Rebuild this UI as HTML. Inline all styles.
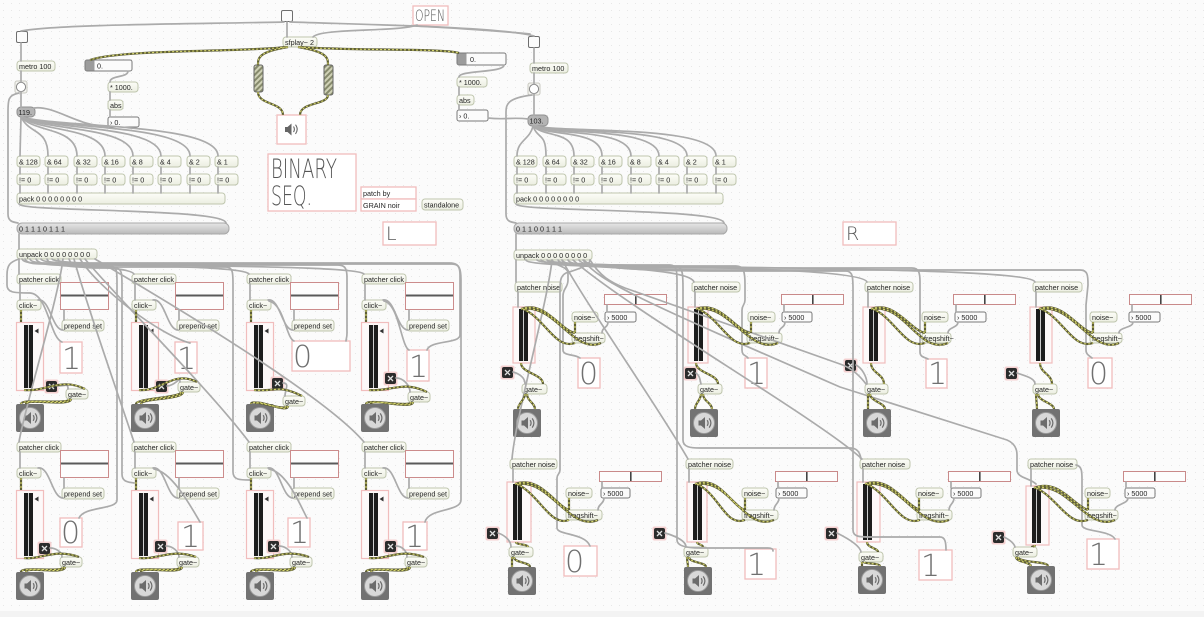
<!DOCTYPE html>
<html><head><meta charset="utf-8"><style>
html,body{margin:0;padding:0;background:#fbfbfb;}
svg{display:block;}
svg text{font-family:"Liberation Sans",sans-serif;}
.o{fill:url(#og);stroke:#bfc6ae;stroke-width:1;}
.t{font-size:7.2px;fill:#262626;}
.c{fill:none;stroke:#ababab;stroke-width:1.7;stroke-linecap:round;stroke-linejoin:round;}
.s1{fill:none;stroke:#5e5e36;stroke-width:2.2;}
.s2{fill:none;stroke:#d6d66c;stroke-width:1.1;stroke-dasharray:2 2;}
.p{fill:#fff;stroke:#f1bdbd;stroke-width:1.3;}
.pm{fill:#fdf9f9;stroke:#f1bdbd;stroke-width:1.2;}
.dg{font-family:"DejaVu Sans","Liberation Sans",sans-serif;font-weight:200;font-size:30px;fill:#707070;}
.th{font-family:"DejaVu Sans","Liberation Sans",sans-serif;font-weight:200;fill:#555;}
.nb{fill:#fbfbfb;stroke:#7a7a7a;stroke-width:1;}
</style></head><body>
<svg width="1204" height="617" viewBox="0 0 1204 617" xmlns="http://www.w3.org/2000/svg">
<defs>
<pattern id="dots" width="8" height="7" patternUnits="userSpaceOnUse"><rect x="3" y="3" width="1" height="1" fill="#e7e7e7"/></pattern>
<linearGradient id="og" x1="0" y1="0" x2="0" y2="1"><stop offset="0" stop-color="#fdfdf8"/><stop offset="1" stop-color="#ebeee1"/></linearGradient>
<linearGradient id="mg" x1="0" y1="0" x2="0" y2="1"><stop offset="0" stop-color="#e6e6e6"/><stop offset=".5" stop-color="#d0d0d0"/><stop offset="1" stop-color="#b9b9b9"/></linearGradient>
<pattern id="hatch" width="4" height="4" patternUnits="userSpaceOnUse" patternTransform="rotate(45)"><rect width="4" height="4" fill="#cfd1b6"/><rect width="2" height="4" fill="#868a6c"/></pattern>
<g id="spk"><rect x="0" y="0" width="28" height="28" rx="2" fill="#727272"/><circle cx="14" cy="14" r="10.5" fill="#d8d8d8" stroke="#9a9a9a"/><path d="M8.5,11.5h2.5l4-3.5v12l-4-3.5h-2.5z" fill="#6c6c6c"/><path d="M17.2,11.2q1.8,2.8 0,5.6M19.2,9.4q3.4,4.6 0,9.2" fill="none" stroke="#6c6c6c" stroke-width="1.2"/></g>
<g id="mtrC"><rect x=".5" y=".5" width="27" height="68" fill="#fdf9f9" stroke="#f1bdbd" stroke-width="1.2"/><rect x="8" y="3" width="9" height="63" fill="#1d1d1d"/><rect x="12" y="3" width="1" height="63" fill="#d0d0d0"/><path d="M18.5,9l4-2.5v5z" fill="#333"/></g>
<g id="xb"><rect x="-1.5" y="-1.5" width="14" height="14" rx="2" fill="#f4d0d0"/><rect x="0" y="0" width="11" height="11" rx="2" fill="#2b2b2b"/><path d="M3,3l5,5M8,3l-5,5" stroke="#e0e0e0" stroke-width="1.3"/></g>
<g id="msC"><rect x=".5" y=".5" width="48" height="27" fill="#fdfdfd" stroke="#cc8c8c"/><rect x="1" y="12.5" width="47" height="2" fill="#5a5a5a"/></g>
<g id="msN"><rect x=".5" y=".5" width="62" height="10" fill="#fdfdfd" stroke="#c98a8a"/><rect x="31" y="1" width="1.6" height="9" fill="#444"/></g>
<g id="tog"><rect x=".5" y=".5" width="11" height="11" rx="1.5" fill="#fbfbfb" stroke="#6e6e6e"/></g>

<g id="sig">
<path d="M286,47 C250,52 120,49 90,60"/>
<path d="M300,47 C350,51 440,48 459,53"/>
<path d="M288,47 C258,52 258,58 258,65"/>
<path d="M298,47 C328,52 328,58 328,65"/>
<path d="M258,92 C258,105 283,102 283,115"/>
<path d="M328,95 C328,105 300,102 300,115"/>
<path d="M21,310 L21,322"/><path d="M24,390 C46,392 61,377 85,389"/><path d="M69,399 C69,405 21,398 21,404"/><path d="M71,399 C71,407 26,398 26,404"/>
<path d="M136,310 L136,322"/><path d="M139,390 C161,392 173,370 197,382"/><path d="M181,392 C181,398 136,398 136,404"/><path d="M183,392 C183,400 141,398 141,404"/>
<path d="M251,310 L251,322"/><path d="M254,390 C276,392 278,384 302,396"/><path d="M286,406 C286,412 251,398 251,404"/><path d="M288,406 C288,414 256,398 256,404"/>
<path d="M366,310 L366,322"/><path d="M369,390 C391,392 403,380 427,392"/><path d="M411,402 C411,408 366,398 366,404"/><path d="M413,402 C413,410 371,398 371,404"/>
<path d="M21,478 L21,490"/><path d="M24,558 C40,560 55,548 79,557"/><path d="M63,567 C63,573 21,566 21,572"/><path d="M65,567 C65,575 26,566 26,572"/>
<path d="M136,478 L136,490"/><path d="M139,558 C158,560 172,548 196,557"/><path d="M180,567 C180,573 136,566 136,572"/><path d="M182,567 C182,575 141,566 141,572"/>
<path d="M251,478 L251,490"/><path d="M254,558 C272,560 285,548 309,557"/><path d="M293,567 C293,573 251,566 251,572"/><path d="M295,567 C295,575 256,566 256,572"/>
<path d="M366,478 L366,490"/><path d="M369,558 C387,560 400,548 424,557"/><path d="M408,567 C408,573 366,566 366,572"/><path d="M410,567 C410,575 371,566 371,572"/>
<path d="M521,309 C545,300 560,330 575,333"/><path d="M523,309 C545,318 555,350 575,343"/><path d="M525,309 C555,305 575,355 601,343"/><path d="M575,322 L575,333"/><path d="M521,363 C521,373 543,374 543,384"/><path d="M525,394 C525,400 518,403 518,409"/><path d="M527,394 C527,401 535,403 535,409"/>
<path d="M696,309 C720,300 735,330 750,333"/><path d="M698,309 C720,318 730,350 750,343"/><path d="M700,309 C730,305 750,355 778,343"/><path d="M751,322 L751,333"/><path d="M696,363 C696,373 718,374 718,384"/><path d="M701,394 C701,400 695,403 695,409"/><path d="M703,394 C703,401 712,403 712,409"/>
<path d="M871,309 C895,300 910,330 925,333"/><path d="M873,309 C895,318 905,350 925,343"/><path d="M875,309 C905,305 920,355 948,343"/><path d="M925,322 L925,333"/><path d="M871,363 C871,373 884,374 884,384"/><path d="M868,394 C868,400 868,403 868,409"/><path d="M870,394 C870,401 885,403 885,409"/>
<path d="M1039,309 C1063,300 1078,330 1093,333"/><path d="M1041,309 C1063,318 1073,350 1093,343"/><path d="M1043,309 C1073,305 1093,355 1119,343"/><path d="M1093,322 L1093,333"/><path d="M1040,363 C1040,373 1052,374 1052,384"/><path d="M1036,394 C1036,400 1037,403 1037,409"/><path d="M1038,394 C1038,401 1054,403 1054,409"/>
<path d="M515,484 C540,475 555,505 569,510"/><path d="M517,484 C540,495 550,527 569,520"/><path d="M519,484 C550,480 570,532 598,520"/><path d="M569,498 L569,510"/><path d="M516,542 C516,545 528,544 528,547"/><path d="M512,557 C512,562 512,563 512,567"/><path d="M514,557 C514,563 530,562 530,567"/>
<path d="M695,484 C720,475 730,505 745,510"/><path d="M697,484 C720,495 725,527 745,520"/><path d="M699,484 C730,480 745,532 774,520"/><path d="M745,498 L745,510"/><path d="M697,542 C697,545 703,544 703,547"/><path d="M687,557 C687,562 688,563 688,567"/><path d="M689,557 C689,563 706,562 706,567"/>
<path d="M865,484 C890,475 905,505 920,510"/><path d="M867,484 C890,495 900,527 920,520"/><path d="M869,484 C900,480 920,532 949,520"/><path d="M919,498 L919,510"/><path d="M867,542 C867,548 878,548 878,552"/><path d="M862,562 L862,566"/><path d="M864,562 C864,564 880,563 880,566"/>
<path d="M1034,488 C1058,478 1073,505 1088,510"/><path d="M1036,488 C1058,498 1068,527 1088,520"/><path d="M1038,488 C1068,483 1088,532 1115,520"/><path d="M1088,498 L1088,510"/><path d="M1035,545 C1035,547 1032,546 1032,547"/><path d="M1016,557 C1016,562 1030,562 1031,566"/><path d="M1018,557 C1018,563 1048,561 1048,566"/>
</g>
</defs>

<rect width="1204" height="617" fill="#fbfbfb"/>
<rect width="1204" height="617" fill="url(#dots)"/>
<rect x="0" y="611" width="1204" height="6" fill="#f3f3f3"/>

<use href="#tog" x="281" y="10"/>
<rect class="p" x="413" y="6" width="35" height="19"/>
<text class="th" x="415" y="21" font-size="16" textLength="30" lengthAdjust="spacingAndGlyphs">OPEN</text>
<rect class="o" x="283" y="37" width="34" height="10" rx="3"/><text class="t" x="285" y="44.8">sfplay~ 2</text>

<rect x="254" y="65" width="9" height="27" rx="2" fill="url(#hatch)" stroke="#666"/>
<rect x="324" y="65" width="9" height="30" rx="2" fill="url(#hatch)" stroke="#666"/>
<rect class="p" x="277" y="115" width="29" height="29"/>
<path d="M285,127h2.5l4-3.5v12l-4-3.5h-2.5z" fill="#666"/>
<path d="M293.5,126.5q1.8,2.8 0,5.6M295.5,124.7q3.4,4.6 0,9.2" fill="none" stroke="#666" stroke-width="1.1"/>

<rect class="p" x="268" y="154" width="88" height="57"/>
<text class="th" x="271" y="178" font-size="27" textLength="66" lengthAdjust="spacingAndGlyphs">BINARY</text>
<text class="th" x="271" y="205" font-size="27" textLength="41" lengthAdjust="spacingAndGlyphs">SEQ.</text>
<rect class="p" x="361" y="187" width="55" height="12"/><text class="t" x="363" y="196">patch by</text>
<rect class="p" x="361" y="199" width="55" height="12"/><text class="t" x="363" y="208">GRAIN noir</text>
<rect class="o" x="422" y="199" width="41" height="11" rx="3"/><text class="t" x="424" y="207.5">standalone</text>
<rect class="p" x="383" y="222" width="53" height="23"/>
<text class="th" x="386" y="240" font-size="19">L</text>
<rect class="p" x="843" y="222" width="53" height="23"/>
<text class="th" x="846" y="240" font-size="19">R</text>

<use href="#tog" x="16" y="31"/>
<rect class="o" x="17" y="61" width="38" height="10" rx="3"/><text class="t" x="19" y="68.8">metro 100</text>
<rect x="15" y="81" width="12" height="12" rx="2" fill="#f4f4f0" stroke="#c8c8c0"/><circle cx="21" cy="87" r="4.6" fill="#fff" stroke="#888"/>
<rect x="17" y="107" width="18" height="10" rx="4" fill="#b4b4b4" stroke="#8f8f8f"/><text class="t" x="18.5" y="114.8">119.</text>

<rect class="nb" x="85" y="60" width="47" height="11" rx="2"/><rect x="85.5" y="60.5" width="9" height="10" fill="#9c9c9c"/><text class="t" x="97" y="68.5">0.</text>
<rect class="o" x="108" y="82" width="30" height="10" rx="3"/><text class="t" x="110" y="89.8">* 1000.</text>
<rect class="o" x="108" y="100" width="15" height="10" rx="3"/><text class="t" x="110" y="107.8">abs</text>
<rect class="nb" x="108" y="117" width="31" height="10" rx="2"/><text class="t" x="110" y="124.8">› 0.</text>

<rect class="o" x="17" y="156" width="23" height="11" rx="3"/><text class="t" x="19" y="164.3">&amp; 128</text>
<rect class="o" x="45" y="156" width="23" height="11" rx="3"/><text class="t" x="47" y="164.3">&amp; 64</text>
<rect class="o" x="74" y="156" width="23" height="11" rx="3"/><text class="t" x="76" y="164.3">&amp; 32</text>
<rect class="o" x="102" y="156" width="23" height="11" rx="3"/><text class="t" x="104" y="164.3">&amp; 16</text>
<rect class="o" x="130" y="156" width="23" height="11" rx="3"/><text class="t" x="132" y="164.3">&amp; 8</text>
<rect class="o" x="158" y="156" width="23" height="11" rx="3"/><text class="t" x="160" y="164.3">&amp; 4</text>
<rect class="o" x="187" y="156" width="23" height="11" rx="3"/><text class="t" x="189" y="164.3">&amp; 2</text>
<rect class="o" x="215" y="156" width="23" height="11" rx="3"/><text class="t" x="217" y="164.3">&amp; 1</text>
<rect class="o" x="17" y="174" width="23" height="11" rx="3"/><text class="t" x="19" y="182.3">!= 0</text>
<rect class="o" x="45" y="174" width="23" height="11" rx="3"/><text class="t" x="47" y="182.3">!= 0</text>
<rect class="o" x="74" y="174" width="23" height="11" rx="3"/><text class="t" x="76" y="182.3">!= 0</text>
<rect class="o" x="102" y="174" width="23" height="11" rx="3"/><text class="t" x="104" y="182.3">!= 0</text>
<rect class="o" x="130" y="174" width="23" height="11" rx="3"/><text class="t" x="132" y="182.3">!= 0</text>
<rect class="o" x="158" y="174" width="23" height="11" rx="3"/><text class="t" x="160" y="182.3">!= 0</text>
<rect class="o" x="187" y="174" width="23" height="11" rx="3"/><text class="t" x="189" y="182.3">!= 0</text>
<rect class="o" x="215" y="174" width="23" height="11" rx="3"/><text class="t" x="217" y="182.3">!= 0</text>
<rect class="o" x="17" y="193" width="208" height="11" rx="3"/><text class="t" x="19" y="201.3">pack 0 0 0 0 0 0 0 0</text>
<rect x="17" y="223" width="212" height="11" rx="5" fill="url(#mg)" stroke="#a8a8a8"/><text class="t" x="19" y="231.5" font-size="8">0 1 1 1 0 1 1 1</text>
<rect class="o" x="17" y="249" width="80" height="10" rx="3"/><text class="t" x="19" y="256.8">unpack 0 0 0 0 0 0 0 0</text>

<use href="#tog" x="528" y="36"/>
<rect class="o" x="530" y="63" width="38" height="10" rx="3"/><text class="t" x="532" y="70.8">metro 100</text>
<rect x="528" y="83" width="12" height="12" rx="2" fill="#f4f4f0" stroke="#c8c8c0"/><circle cx="534" cy="89" r="4.6" fill="#fff" stroke="#888"/>
<rect x="528" y="115" width="20" height="11" rx="4" fill="#b4b4b4" stroke="#8f8f8f"/><text class="t" x="529.5" y="123.3">103.</text>

<rect class="nb" x="457" y="53" width="49" height="12" rx="2"/><rect x="457.5" y="53.5" width="9" height="11" fill="#9c9c9c"/><text class="t" x="470" y="62">0.</text>
<rect class="o" x="457" y="77" width="30" height="10" rx="3"/><text class="t" x="459" y="84.8">* 1000.</text>
<rect class="o" x="457" y="95" width="17" height="10" rx="3"/><text class="t" x="459" y="102.8">abs</text>
<rect class="nb" x="457" y="110" width="31" height="11" rx="2"/><text class="t" x="459" y="118.3">› 0.</text>

<rect class="o" x="514" y="156" width="23" height="11" rx="3"/><text class="t" x="516" y="164.3">&amp; 128</text>
<rect class="o" x="543" y="156" width="23" height="11" rx="3"/><text class="t" x="545" y="164.3">&amp; 64</text>
<rect class="o" x="571" y="156" width="23" height="11" rx="3"/><text class="t" x="573" y="164.3">&amp; 32</text>
<rect class="o" x="599" y="156" width="23" height="11" rx="3"/><text class="t" x="601" y="164.3">&amp; 16</text>
<rect class="o" x="628" y="156" width="23" height="11" rx="3"/><text class="t" x="630" y="164.3">&amp; 8</text>
<rect class="o" x="656" y="156" width="23" height="11" rx="3"/><text class="t" x="658" y="164.3">&amp; 4</text>
<rect class="o" x="684" y="156" width="23" height="11" rx="3"/><text class="t" x="686" y="164.3">&amp; 2</text>
<rect class="o" x="713" y="156" width="23" height="11" rx="3"/><text class="t" x="715" y="164.3">&amp; 1</text>
<rect class="o" x="514" y="174" width="23" height="11" rx="3"/><text class="t" x="516" y="182.3">!= 0</text>
<rect class="o" x="543" y="174" width="23" height="11" rx="3"/><text class="t" x="545" y="182.3">!= 0</text>
<rect class="o" x="571" y="174" width="23" height="11" rx="3"/><text class="t" x="573" y="182.3">!= 0</text>
<rect class="o" x="599" y="174" width="23" height="11" rx="3"/><text class="t" x="601" y="182.3">!= 0</text>
<rect class="o" x="628" y="174" width="23" height="11" rx="3"/><text class="t" x="630" y="182.3">!= 0</text>
<rect class="o" x="656" y="174" width="23" height="11" rx="3"/><text class="t" x="658" y="182.3">!= 0</text>
<rect class="o" x="684" y="174" width="23" height="11" rx="3"/><text class="t" x="686" y="182.3">!= 0</text>
<rect class="o" x="713" y="174" width="23" height="11" rx="3"/><text class="t" x="715" y="182.3">!= 0</text>
<rect class="o" x="514" y="193" width="209" height="11" rx="3"/><text class="t" x="516" y="201.3">pack 0 0 0 0 0 0 0 0</text>
<rect x="514" y="223" width="213" height="11" rx="5" fill="url(#mg)" stroke="#a8a8a8"/><text class="t" x="516" y="231.5" font-size="8">0 1 1 0 0 1 1 1</text>
<rect class="o" x="514" y="250" width="78" height="10" rx="3"/><text class="t" x="516" y="257.8">unpack 0 0 0 0 0 0 0 0</text>

<!-- click modules -->
<rect class="o" x="17" y="274" width="44" height="10" rx="3"/><text class="t" x="19" y="281.8">patcher click</text>
<use href="#msC" x="60" y="282"/>
<rect class="o" x="17" y="300" width="24" height="10" rx="3"/><text class="t" x="19" y="307.8">click~</text>
<rect class="o" x="62" y="320" width="42" height="11" rx="3"/><text class="t" x="64" y="328.3">prepend set</text>
<use href="#mtrC" x="16" y="322"/>
<use href="#xb" x="46" y="381"/>
<rect class="o" x="66" y="389" width="22" height="10" rx="3"/><text class="t" x="68" y="396.8">gate~</text>
<rect class="p" x="60" y="342" width="22" height="31"/><text class="dg" x="62" y="369">1</text>
<use href="#spk" x="16" y="404"/>

<rect class="o" x="132" y="274" width="44" height="10" rx="3"/><text class="t" x="134" y="281.8">patcher click</text>
<use href="#msC" x="175" y="282"/>
<rect class="o" x="132" y="300" width="24" height="10" rx="3"/><text class="t" x="134" y="307.8">click~</text>
<rect class="o" x="177" y="320" width="42" height="11" rx="3"/><text class="t" x="179" y="328.3">prepend set</text>
<use href="#mtrC" x="131" y="322"/>
<use href="#xb" x="156" y="381"/>
<rect class="o" x="178" y="382" width="22" height="10" rx="3"/><text class="t" x="180" y="389.8">gate~</text>
<rect class="p" x="175" y="342" width="22" height="31"/><text class="dg" x="177" y="369">1</text>
<use href="#spk" x="131" y="404"/>

<rect class="o" x="247" y="274" width="44" height="10" rx="3"/><text class="t" x="249" y="281.8">patcher click</text>
<use href="#msC" x="290" y="282"/>
<rect class="o" x="247" y="300" width="24" height="10" rx="3"/><text class="t" x="249" y="307.8">click~</text>
<rect class="o" x="292" y="320" width="42" height="11" rx="3"/><text class="t" x="294" y="328.3">prepend set</text>
<use href="#mtrC" x="246" y="322"/>
<use href="#xb" x="272" y="378"/>
<rect class="o" x="283" y="396" width="22" height="10" rx="3"/><text class="t" x="285" y="403.8">gate~</text>
<rect class="p" x="292" y="341" width="58" height="30"/><text class="dg" x="293" y="367">0</text>
<use href="#spk" x="246" y="404"/>

<rect class="o" x="362" y="274" width="44" height="10" rx="3"/><text class="t" x="364" y="281.8">patcher click</text>
<use href="#msC" x="405" y="282"/>
<rect class="o" x="362" y="300" width="24" height="10" rx="3"/><text class="t" x="364" y="307.8">click~</text>
<rect class="o" x="407" y="320" width="42" height="11" rx="3"/><text class="t" x="409" y="328.3">prepend set</text>
<use href="#mtrC" x="361" y="322"/>
<use href="#xb" x="385" y="373"/>
<rect class="o" x="408" y="392" width="22" height="10" rx="3"/><text class="t" x="410" y="399.8">gate~</text>
<rect class="p" x="407" y="350" width="22" height="31"/><text class="dg" x="409" y="377">1</text>
<use href="#spk" x="361" y="404"/>

<rect class="o" x="17" y="442" width="44" height="10" rx="3"/><text class="t" x="19" y="449.8">patcher click</text>
<use href="#msC" x="60" y="450"/>
<rect class="o" x="17" y="468" width="24" height="10" rx="3"/><text class="t" x="19" y="475.8">click~</text>
<rect class="o" x="62" y="488" width="42" height="11" rx="3"/><text class="t" x="64" y="496.3">prepend set</text>
<use href="#mtrC" x="16" y="490"/>
<use href="#xb" x="39" y="543"/>
<rect class="o" x="60" y="557" width="22" height="10" rx="3"/><text class="t" x="62" y="564.8">gate~</text>
<rect class="p" x="60" y="518" width="22" height="29"/><text class="dg" x="61" y="543">0</text>
<use href="#spk" x="16" y="572"/>

<rect class="o" x="132" y="442" width="44" height="10" rx="3"/><text class="t" x="134" y="449.8">patcher click</text>
<use href="#msC" x="175" y="450"/>
<rect class="o" x="132" y="468" width="24" height="10" rx="3"/><text class="t" x="134" y="475.8">click~</text>
<rect class="o" x="177" y="488" width="42" height="11" rx="3"/><text class="t" x="179" y="496.3">prepend set</text>
<use href="#mtrC" x="131" y="490"/>
<use href="#xb" x="155" y="541"/>
<rect class="o" x="177" y="557" width="22" height="10" rx="3"/><text class="t" x="179" y="564.8">gate~</text>
<rect class="p" x="178" y="522" width="25" height="28"/><text class="dg" x="181" y="547">1</text>
<use href="#spk" x="131" y="572"/>

<rect class="o" x="247" y="442" width="44" height="10" rx="3"/><text class="t" x="249" y="449.8">patcher click</text>
<use href="#msC" x="290" y="450"/>
<rect class="o" x="247" y="468" width="24" height="10" rx="3"/><text class="t" x="249" y="475.8">click~</text>
<rect class="o" x="292" y="488" width="42" height="11" rx="3"/><text class="t" x="294" y="496.3">prepend set</text>
<use href="#mtrC" x="246" y="490"/>
<use href="#xb" x="268" y="541"/>
<rect class="o" x="290" y="557" width="22" height="10" rx="3"/><text class="t" x="292" y="564.8">gate~</text>
<rect class="p" x="288" y="518" width="22" height="29"/><text class="dg" x="290" y="543">1</text>
<use href="#spk" x="246" y="572"/>

<rect class="o" x="362" y="442" width="44" height="10" rx="3"/><text class="t" x="364" y="449.8">patcher click</text>
<use href="#msC" x="405" y="450"/>
<rect class="o" x="362" y="468" width="24" height="10" rx="3"/><text class="t" x="364" y="475.8">click~</text>
<rect class="o" x="407" y="488" width="42" height="11" rx="3"/><text class="t" x="409" y="496.3">prepend set</text>
<use href="#mtrC" x="361" y="490"/>
<use href="#xb" x="385" y="541"/>
<rect class="o" x="405" y="557" width="22" height="10" rx="3"/><text class="t" x="407" y="564.8">gate~</text>
<rect class="p" x="403" y="522" width="24" height="28"/><text class="dg" x="405" y="547">1</text>
<use href="#spk" x="361" y="572"/>

<!-- noise modules -->
<rect class="o" x="515" y="282" width="47" height="10" rx="3"/><text class="t" x="517" y="289.8">patcher noise</text>
<use href="#msN" x="604" y="294"/>
<rect class="o" x="572" y="312" width="26" height="10" rx="3"/><text class="t" x="574" y="319.8">noise~</text>
<rect class="nb" x="605" y="312" width="31" height="10" rx="2"/><text class="t" x="607" y="319.8">› 5000</text>
<rect class="o" x="572" y="333" width="33" height="10" rx="3"/><text class="t" x="574" y="340.8">freqshift~</text>
<rect class="pm" x="513" y="307" width="22" height="56"/><rect x="519" y="309" width="9" height="52" fill="#1d1d1d"/><rect x="523" y="309" width="1" height="52" fill="#ccc"/>
<use href="#xb" x="502" y="367"/>
<rect class="o" x="522" y="384" width="25" height="10" rx="3"/><text class="t" x="524" y="391.8">gate~</text>
<use href="#spk" x="513" y="409"/>
<rect class="p" x="578" y="358" width="22" height="30"/><text class="dg" x="579" y="384">0</text>

<rect class="o" x="692" y="282" width="48" height="10" rx="3"/><text class="t" x="694" y="289.8">patcher noise</text>
<use href="#msN" x="781" y="294"/>
<rect class="o" x="748" y="312" width="27" height="10" rx="3"/><text class="t" x="750" y="319.8">noise~</text>
<rect class="nb" x="782" y="312" width="30" height="10" rx="2"/><text class="t" x="784" y="319.8">› 5000</text>
<rect class="o" x="747" y="333" width="35" height="10" rx="3"/><text class="t" x="749" y="340.8">freqshift~</text>
<rect class="pm" x="688" y="307" width="20" height="56"/><rect x="694" y="309" width="9" height="52" fill="#1d1d1d"/><rect x="698" y="309" width="1" height="52" fill="#ccc"/>
<use href="#xb" x="685" y="368"/>
<rect class="o" x="698" y="384" width="24" height="10" rx="3"/><text class="t" x="700" y="391.8">gate~</text>
<use href="#spk" x="690" y="409"/>
<rect class="p" x="745" y="358" width="22" height="30"/><text class="dg" x="747" y="384">1</text>

<rect class="o" x="865" y="282" width="48" height="10" rx="3"/><text class="t" x="867" y="289.8">patcher noise</text>
<use href="#msN" x="953" y="294"/>
<rect class="o" x="922" y="312" width="26" height="10" rx="3"/><text class="t" x="924" y="319.8">noise~</text>
<rect class="nb" x="955" y="312" width="31" height="10" rx="2"/><text class="t" x="957" y="319.8">› 5000</text>
<rect class="o" x="922" y="333" width="29" height="10" rx="3"/><text class="t" x="924" y="340.8">freqshift~</text>
<rect class="pm" x="863" y="307" width="22" height="56"/><rect x="869" y="309" width="9" height="52" fill="#1d1d1d"/><rect x="873" y="309" width="1" height="52" fill="#ccc"/>
<use href="#xb" x="845" y="360"/>
<rect class="o" x="865" y="384" width="23" height="10" rx="3"/><text class="t" x="867" y="391.8">gate~</text>
<use href="#spk" x="863" y="409"/>
<rect class="p" x="926" y="359" width="21" height="29"/><text class="dg" x="928" y="384">1</text>

<rect class="o" x="1033" y="282" width="49" height="10" rx="3"/><text class="t" x="1035" y="289.8">patcher noise</text>
<use href="#msN" x="1129" y="294"/>
<rect class="o" x="1090" y="312" width="27" height="10" rx="3"/><text class="t" x="1092" y="319.8">noise~</text>
<rect class="nb" x="1129" y="312" width="31" height="10" rx="2"/><text class="t" x="1131" y="319.8">› 5000</text>
<rect class="o" x="1090" y="333" width="32" height="10" rx="3"/><text class="t" x="1092" y="340.8">freqshift~</text>
<rect class="pm" x="1030" y="307" width="22" height="56"/><rect x="1036" y="309" width="9" height="52" fill="#1d1d1d"/><rect x="1040" y="309" width="1" height="52" fill="#ccc"/>
<use href="#xb" x="1006" y="368"/>
<rect class="o" x="1033" y="384" width="24" height="10" rx="3"/><text class="t" x="1035" y="391.8">gate~</text>
<use href="#spk" x="1032" y="409"/>
<rect class="p" x="1088" y="358" width="24" height="30"/><text class="dg" x="1089" y="384">0</text>

<rect class="o" x="510" y="459" width="47" height="10" rx="3"/><text class="t" x="512" y="466.8">patcher noise</text>
<use href="#msN" x="599" y="471"/>
<rect class="o" x="566" y="488" width="26" height="10" rx="3"/><text class="t" x="568" y="495.8">noise~</text>
<rect class="nb" x="601" y="488" width="29" height="10" rx="2"/><text class="t" x="603" y="495.8">› 5000</text>
<rect class="o" x="566" y="510" width="36" height="10" rx="3"/><text class="t" x="568" y="517.8">freqshift~</text>
<rect class="pm" x="507" y="482" width="24" height="60"/><rect x="513" y="484" width="9" height="56" fill="#1d1d1d"/><rect x="517" y="484" width="1" height="56" fill="#ccc"/>
<use href="#xb" x="487" y="528"/>
<rect class="o" x="509" y="547" width="24" height="10" rx="3"/><text class="t" x="511" y="554.8">gate~</text>
<use href="#spk" x="508" y="567"/>
<rect class="p" x="564" y="546" width="33" height="30"/><text class="dg" x="565" y="572">0</text>

<rect class="o" x="686" y="459" width="47" height="10" rx="3"/><text class="t" x="688" y="466.8">patcher noise</text>
<use href="#msN" x="775" y="471"/>
<rect class="o" x="742" y="488" width="26" height="10" rx="3"/><text class="t" x="744" y="495.8">noise~</text>
<rect class="nb" x="776" y="488" width="31" height="10" rx="2"/><text class="t" x="778" y="495.8">› 5000</text>
<rect class="o" x="742" y="510" width="36" height="10" rx="3"/><text class="t" x="744" y="517.8">freqshift~</text>
<rect class="pm" x="687" y="482" width="20" height="60"/><rect x="693" y="484" width="9" height="56" fill="#1d1d1d"/><rect x="697" y="484" width="1" height="56" fill="#ccc"/>
<use href="#xb" x="654" y="528"/>
<rect class="o" x="684" y="547" width="24" height="10" rx="3"/><text class="t" x="686" y="554.8">gate~</text>
<use href="#spk" x="684" y="567"/>
<rect class="p" x="745" y="549" width="31" height="30"/><text class="dg" x="747" y="575">1</text>

<rect class="o" x="860" y="459" width="50" height="10" rx="3"/><text class="t" x="862" y="466.8">patcher noise</text>
<use href="#msN" x="948" y="471"/>
<rect class="o" x="916" y="488" width="27" height="10" rx="3"/><text class="t" x="918" y="495.8">noise~</text>
<rect class="nb" x="951" y="488" width="30" height="10" rx="2"/><text class="t" x="953" y="495.8">› 5000</text>
<rect class="o" x="917" y="510" width="35" height="10" rx="3"/><text class="t" x="919" y="517.8">freqshift~</text>
<rect class="pm" x="857" y="482" width="23" height="60"/><rect x="863" y="484" width="9" height="56" fill="#1d1d1d"/><rect x="867" y="484" width="1" height="56" fill="#ccc"/>
<use href="#xb" x="826" y="528"/>
<rect class="o" x="859" y="552" width="24" height="10" rx="3"/><text class="t" x="861" y="559.8">gate~</text>
<use href="#spk" x="858" y="566"/>
<rect class="p" x="919" y="550" width="33" height="30"/><text class="dg" x="921" y="576">1</text>

<rect class="o" x="1028" y="459" width="49" height="10" rx="3"/><text class="t" x="1030" y="466.8">patcher noise</text>
<use href="#msN" x="1123" y="471"/>
<rect class="o" x="1085" y="488" width="25" height="10" rx="3"/><text class="t" x="1087" y="495.8">noise~</text>
<rect class="nb" x="1125" y="488" width="30" height="10" rx="2"/><text class="t" x="1127" y="495.8">› 5000</text>
<rect class="o" x="1085" y="510" width="33" height="10" rx="3"/><text class="t" x="1087" y="517.8">freqshift~</text>
<rect class="pm" x="1026" y="486" width="23" height="59"/><rect x="1032" y="488" width="9" height="55" fill="#1d1d1d"/><rect x="1036" y="488" width="1" height="55" fill="#ccc"/>
<use href="#xb" x="993" y="532"/>
<rect class="o" x="1013" y="547" width="24" height="10" rx="3"/><text class="t" x="1015" y="554.8">gate~</text>
<use href="#spk" x="1027" y="566"/>
<rect class="p" x="1087" y="539" width="32" height="30"/><text class="dg" x="1089" y="565">1</text>

<g class="c">
<path d="M284,22 C200,24 60,24 21,31"/>
<path d="M290,22 C380,25 500,27 534,36"/>
<path d="M287,22 L287,37"/>
<path d="M417,25 C400,32 320,28 313,37"/>
<path d="M417,26 C450,28 490,30 530,34"/>
<path d="M21,43 L21,61"/><path d="M21,71 L21,82"/><path d="M21,92 L21,107"/>
<path d="M19,93 C8,95 8,100 8,112 L8,214 C8,221 12,222 18,223"/>
<path d="M109,126 C80,128 55,105 34,108"/>
<path d="M128,71 C128,78 110,75 110,82"/><path d="M110,92 L110,100"/><path d="M110,110 L110,117"/>
<path d="M21,117 L20,156"/>
<path d="M21,117 C30,135 48,128 48,156"/>
<path d="M21,117 C35,133 77,127 77,156"/>
<path d="M21,117 C40,132 105,127 105,156"/>
<path d="M21,117 C45,131 133,126 133,156"/>
<path d="M21,117 C50,130 161,125 161,156"/>
<path d="M21,117 C55,129 190,124 190,156"/>
<path d="M21,117 C60,128 218,123 218,156"/>
<path d="M20,167 L20,174M48,167 L48,174M77,167 L77,174M105,167 L105,174M133,167 L133,174M161,167 L161,174M190,167 L190,174M218,167 L218,174"/>
<path d="M20,185 L20,193M48,185 L48,193M77,185 L77,193M105,185 L105,193M133,185 L133,193M161,185 L161,193M190,185 L190,193M218,185 L218,193"/>
<path d="M19,204 C19,212 224,208 226,223"/>
<path d="M19,234 L19,249"/>
<path d="M534,48 L534,63"/><path d="M534,73 L534,84"/><path d="M534,94 L534,115"/>
<path d="M532,95 C508,98 506,104 506,112 L506,214 C506,221 510,222 516,223"/>
<path d="M488,118 C505,120 512,117 528,119"/>
<path d="M504,65 C504,73 459,70 459,77"/><path d="M459,87 L459,95"/><path d="M459,105 L459,110"/>
<path d="M533,126 C530,140 517,140 517,156"/>
<path d="M533,126 C538,140 546,132 546,156"/>
<path d="M533,126 C545,138 574,130 574,156"/>
<path d="M533,126 C550,137 602,129 602,156"/>
<path d="M533,126 C555,136 631,128 631,156"/>
<path d="M533,126 C560,135 659,127 659,156"/>
<path d="M533,126 C565,134 687,126 687,156"/>
<path d="M533,126 C570,133 716,125 716,156"/>
<path d="M517,167 L517,174M546,167 L546,174M574,167 L574,174M602,167 L602,174M631,167 L631,174M659,167 L659,174M687,167 L687,174M716,167 L716,174"/>
<path d="M517,185 L517,193M546,185 L546,193M574,185 L574,193M602,185 L602,193M631,185 L631,193M659,185 L659,193M687,185 L687,193M716,185 L716,193"/>
<path d="M516,204 C516,212 722,208 724,223"/>
<path d="M516,234 L516,250"/>
<path d="M19,259 L19,274"/>
<path d="M30,259 C30,268 128,264 134,274"/>
<path d="M41,259 C41,268 240,263 249,274"/>
<path d="M52,259 C52,268 355,263 364,274"/>
<path d="M63,259 C58,300 24,410 19,442"/>
<path d="M74,259 C85,300 120,400 134,442"/>
<path d="M85,259 C110,290 210,390 249,442"/>
<path d="M95,259 C130,280 320,390 364,442"/>
<path d="M22,259 C24,263 32,263 45,263 L450,263 C458,263 460,267 460,275 L460,335 C460,344 430,340 427,350"/>
<path d="M25,259 C27,264 35,264 50,264 L452,264 C459,264 461,268 461,280 L461,500 C461,512 428,508 425,522"/>
<path d="M36,259 C38,264 48,265 60,265 L338,265 C346,265 347,270 347,278 L347,333 C347,338 346,339 346,341"/>
<path d="M47,259 C49,265 60,266 75,266 L110,266 C117,266 117,272 117,282 L117,500 C117,510 84,506 79,518"/>
<path d="M58,259 C60,266 70,267 85,267 L226,267 C233,267 233,273 233,285 L233,472 C233,480 240,480 250,480"/>
<path d="M69,259 C71,266 80,268 95,268 L115,268 C122,268 122,274 122,285 L122,474 C122,482 128,482 134,483"/>
<path d="M19,259 C10,262 7,265 7,275 L7,285 C7,292 12,293 30,293 C48,294 50,338 62,342"/>
<path d="M80,259 C100,290 160,335 190,343"/>
<path d="M20,284 L20,300M64,310 L64,320M38,300 C50,298 52,330 63,330M57,386 C66,386 68,383 68,389"/>
<path d="M135,284 L135,300M179,310 L179,320M153,300 C165,298 167,330 178,330M167,386 C175,386 180,376 180,382"/>
<path d="M250,284 L250,300M294,310 L294,320M268,300 C280,298 282,330 293,330M269,301 C284,304 286,338 294,341M283,383 C290,383 285,390 285,396"/>
<path d="M365,284 L365,300M409,310 L409,320M383,300 C395,298 397,330 408,330M384,301 C399,304 401,346 409,350M396,378 C404,378 410,386 410,392"/>
<path d="M20,452 L20,468M64,478 L64,488M38,468 C50,466 52,498 63,498M50,548 C56,548 62,552 62,557"/>
<path d="M135,452 L135,468M179,478 L179,488M153,468 C165,466 167,498 178,498M154,469 C172,472 190,505 200,522M166,546 C172,546 179,551 179,557"/>
<path d="M250,452 L250,468M294,478 L294,488M268,468 C280,466 282,498 293,498M269,469 C287,472 300,505 307,518M279,546 C285,546 292,551 292,557"/>
<path d="M365,452 L365,468M409,478 L409,488M383,468 C395,466 397,498 408,498M396,546 C402,546 407,551 407,557"/>
<path d="M516,260 L516,282"/>
<path d="M526,260 C526,268 688,264 694,282"/>
<path d="M537,260 C537,268 860,264 867,282"/>
<path d="M547,260 C547,270 1028,264 1035,282"/>
<path d="M552,260 C555,266 566,266 568,272 L568,280 C568,288 563,288 563,296 L563,350 C563,356 575,354 580,358"/>
<path d="M558,260 C560,266 600,266 640,266 L736,266 C744,266 745,272 745,285 L745,300 C745,305 742,305 742,310 L742,350 C742,356 746,355 748,358"/>
<path d="M568,260 C570,267 620,268 700,268 L912,268 C919,268 920,273 920,282 L920,352 C920,357 924,357 928,359"/>
<path d="M579,260 C582,268 640,270 720,270 L1080,270 C1088,270 1088,276 1088,285 L1086,305 L1086,350 C1086,355 1090,356 1092,358"/>
<path d="M590,260 C590,266 575,270 566,273 C560,276 560,282 560,292 L560,470 C560,474 557,474 557,478 L557,528 C557,535 585,533 590,546"/>
<path d="M541,260 C545,264 560,265 600,265 L670,265 C677,265 677,272 677,282 L677,540 C677,547 690,548 700,548 L768,548 C772,548 773,549 773,551"/>
<path d="M562,260 C565,267 600,267 640,267 L676,267 C683,267 683,274 683,290 L683,440 C683,447 690,448 700,448 L850,448 C857,448 860,452 861,459"/>
<path d="M584,260 C588,268 640,271 720,271 L846,271 C853,271 853,278 853,290 L853,530 C853,537 860,537 870,537 L940,537 C945,537 946,542 946,550"/>
<path d="M552,260 C548,300 515,420 512,459"/>
<path d="M562,260 C590,310 660,410 688,459"/>
<path d="M573,260 C630,310 820,420 862,459"/>
<path d="M583,260 C600,282 640,300 840,387 L1007,440 C1014,443 1017,448 1017,455 L1017,470 C1017,478 1030,478 1036,484"/>
<path d="M590,260 C600,276 610,282 625,288 L840,364 C852,368 860,376 866,384"/>
<path d="M1076,465 C1082,466 1082,472 1082,480 L1082,525 C1082,532 1110,530 1115,539"/>
<path d="M518,292 L518,307M607,305 L607,312M608,322 C608,328 602,327 602,333M513,372 C520,374 525,378 525,384"/>
<path d="M695,292 L695,307M784,305 L784,312M785,322 C785,328 779,327 779,333M696,373 C700,376 700,380 701,384"/>
<path d="M868,292 L868,307M956,305 L956,312M958,322 C958,328 948,327 948,333M856,365 C862,368 867,377 867,384"/>
<path d="M1036,292 L1036,307M1132,305 L1132,312M1133,322 C1133,328 1119,327 1119,333M1017,373 C1025,376 1035,378 1035,384"/>
<path d="M513,469 L513,482M602,482 L602,488M604,498 C604,504 598,504 598,510M498,533 C504,535 511,540 511,547"/>
<path d="M689,469 L689,482M778,482 L778,488M779,498 C779,504 774,504 774,510M665,533 C672,535 686,540 686,547"/>
<path d="M863,469 L863,482M951,482 L951,488M954,498 C954,504 949,504 949,510M837,533 C845,537 860,545 861,552"/>
<path d="M1031,469 L1031,486M1126,482 L1126,488M1128,498 C1128,504 1115,504 1115,510M1004,537 C1010,540 1014,543 1015,547"/>
</g>

<use href="#sig" class="s1"/>
<use href="#sig" class="s2"/>
</svg>
</body></html>
